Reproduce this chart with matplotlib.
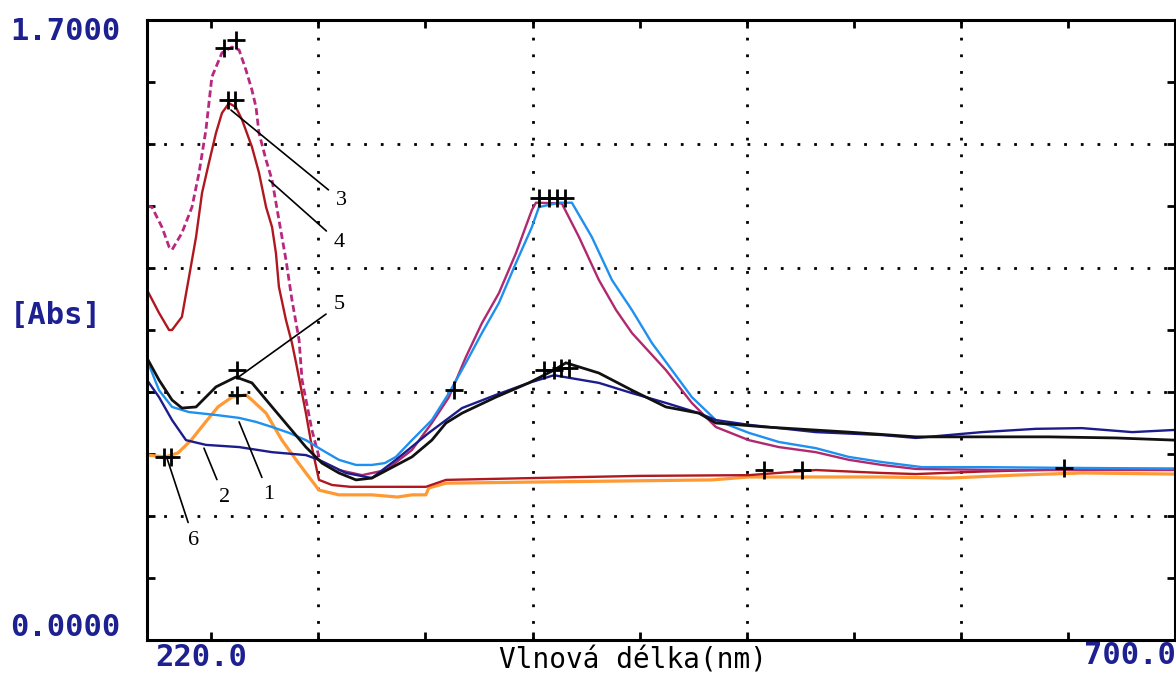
import numpy as np
import matplotlib
matplotlib.use('Agg')
import matplotlib.pyplot as plt

# --- spectra (wavelength nm, absorbance) ---
wl_1 = [220.0, 225.6, 231.7, 239.6, 252.2, 263.0, 270.9, 278.4, 286.3, 294.2, 301.7, 309.6,
        317.6, 325.0, 331.0, 336.2, 343.7, 353.0, 361.0, 368.9, 376.4, 384.3, 392.3, 399.7,
        403.0, 412.3, 418.4, 427.7, 437.1, 446.4, 455.8, 465.1, 474.4, 485.6, 501.0, 515.0,
        532.3, 547.7, 563.1, 581.8, 610.0, 650.0, 700.0]
abs_1 = [0.768, 0.685, 0.639, 0.625, 0.617, 0.609, 0.598, 0.584, 0.568, 0.548, 0.521, 0.494,
         0.480, 0.480, 0.485, 0.502, 0.548, 0.603, 0.677, 0.760, 0.842, 0.924, 1.034, 1.132,
         1.187, 1.199, 1.199, 1.105, 0.987, 0.905, 0.814, 0.740, 0.666, 0.603, 0.568, 0.543,
         0.526, 0.502, 0.488, 0.474, 0.474, 0.472, 0.470]

wl_2 = [220.0, 225.6, 231.7, 238.2, 247.5, 263.0, 278.4, 294.2, 300.3, 312.9, 325.0, 336.2,
        351.6, 359.6, 367.1, 382.9, 398.3, 410.0, 431.0, 446.4, 462.3, 477.7, 485.6, 501.0,
        532.3, 563.1, 579.0, 594.4, 609.8, 635.0, 656.5, 680.0, 700.0]
abs_2 = [0.713, 0.666, 0.603, 0.548, 0.535, 0.529, 0.515, 0.507, 0.494, 0.458, 0.444, 0.494,
         0.568, 0.603, 0.636, 0.672, 0.705, 0.726, 0.705, 0.677, 0.650, 0.622, 0.603, 0.590,
         0.570, 0.562, 0.554, 0.562, 0.570, 0.579, 0.581, 0.570, 0.576]

wl_3 = [220.0, 225.6, 230.3, 231.7, 236.3, 239.6, 242.9, 245.7, 248.9, 252.2, 255.0, 258.3,
        261.5, 264.4, 269.0, 272.3, 275.6, 278.4, 280.2, 281.6, 284.9, 287.7, 289.6, 294.2,
        297.0, 300.3, 306.4, 315.0, 350.2, 359.6, 399.7, 450.0, 501.0, 532.3, 563.1, 579.0,
        610.0, 656.5, 700.0]
abs_3 = [0.960, 0.897, 0.850, 0.850, 0.886, 0.995, 1.105, 1.226, 1.308, 1.390, 1.445, 1.472,
         1.461, 1.426, 1.352, 1.281, 1.187, 1.132, 1.061, 0.968, 0.877, 0.814, 0.760, 0.622,
         0.529, 0.439, 0.425, 0.420, 0.420, 0.439, 0.444, 0.450, 0.452, 0.466, 0.458, 0.455,
         0.462, 0.469, 0.469]

wl_4 = [220.0, 222.3, 227.0, 230.3, 231.7, 236.3, 241.0, 244.3, 247.5, 250.3, 255.0, 259.7,
        263.0, 266.2, 269.0, 270.9, 272.3, 275.6, 278.4, 281.6, 284.9, 287.7, 291.0, 292.4,
        297.0, 300.3, 309.6, 320.4, 331.6, 343.7, 353.0, 361.0, 368.9, 376.4, 384.3, 392.3,
        399.7, 401.6, 413.7, 421.7, 431.0, 439.0, 446.4, 462.3, 474.4, 485.6, 501.0, 515.0,
        532.3, 547.7, 563.1, 579.0, 620.0, 700.0]
abs_4 = [1.190, 1.187, 1.132, 1.078, 1.070, 1.116, 1.187, 1.281, 1.398, 1.544, 1.610, 1.626,
         1.618, 1.563, 1.508, 1.461, 1.390, 1.316, 1.261, 1.152, 1.042, 0.932, 0.823, 0.713,
         0.576, 0.502, 0.466, 0.452, 0.466, 0.521, 0.595, 0.666, 0.776, 0.869, 0.951, 1.061,
         1.179, 1.199, 1.197, 1.105, 0.987, 0.905, 0.842, 0.740, 0.650, 0.584, 0.548, 0.529,
         0.515, 0.494, 0.480, 0.469, 0.466, 0.466]

wl_5 = [220.0, 225.6, 231.7, 236.3, 242.9, 252.2, 261.5, 269.0, 278.4, 286.3, 294.2, 301.7,
        309.6, 317.6, 325.0, 343.7, 353.0, 359.6, 367.1, 382.9, 398.3, 410.0, 415.6, 431.0,
        446.4, 462.3, 477.7, 485.6, 509.0, 547.7, 579.0, 609.8, 641.1, 672.4, 700.0]
abs_5 = [0.773, 0.713, 0.658, 0.636, 0.639, 0.694, 0.721, 0.705, 0.639, 0.584, 0.529, 0.485,
         0.458, 0.439, 0.444, 0.502, 0.548, 0.595, 0.622, 0.666, 0.705, 0.740, 0.760, 0.732,
         0.685, 0.639, 0.622, 0.595, 0.584, 0.570, 0.557, 0.557, 0.557, 0.554, 0.548]

wl_6 = [220.0, 228.5, 234.5, 240.6, 247.0, 253.1, 259.7, 266.2, 269.0, 275.6, 283.0, 289.6,
        294.2, 300.3, 309.6, 325.0, 337.0, 343.7, 350.2, 351.6, 359.6, 399.7, 483.8, 501.0,
        563.1, 594.4, 625.0, 656.5, 700.0]
abs_6 = [0.507, 0.502, 0.513, 0.548, 0.595, 0.639, 0.666, 0.672, 0.658, 0.622, 0.548, 0.494,
         0.458, 0.411, 0.398, 0.398, 0.392, 0.398, 0.398, 0.417, 0.430, 0.433, 0.439, 0.447,
         0.447, 0.444, 0.452, 0.458, 0.455]

# peak-pick crosses left by the instrument
peak_wl = [256.0, 261.5, 257.8, 261.1, 403.0, 407.7, 411.4, 415.1, 405.3, 410.0, 413.3,
           417.0, 363.3, 262.0, 262.0, 227.9, 231.2, 508.0, 525.8, 648.0]
peak_abs = [1.623, 1.645, 1.481, 1.481, 1.212, 1.212, 1.212, 1.212, 0.740, 0.740, 0.745,
            0.745, 0.685, 0.740, 0.672, 0.502, 0.502, 0.466, 0.466, 0.472]

# curve numbers: label, point on curve, label position
labels = ['3', '4', '5', '1', '2', '6']
label_xy = [(259.2, 1.453), (277.0, 1.261), (262.0, 0.718), (263.0, 0.598), (246.6, 0.526), (229.3, 0.499)]
label_text_xy = [(310.6, 1.206), (309.6, 1.091), (309.6, 0.919), (277.0, 0.398), (256.0, 0.392), (241.9, 0.274)]

W, H = 1176, 673
fig = plt.figure(figsize=(W / 100, H / 100), dpi=100)
ax = fig.add_axes([147 / W, 1 - 640 / H, (W - 148) / W, 620 / H])
ax.set_xlim(220, 700)
ax.set_ylim(0, 1.7)

# grid: dotted lines at major positions, ticks at every half step
ax.set_xticks([300, 400, 500, 600])
ax.set_xticks([250, 350, 450, 550, 650], minor=True)
ax.set_yticks([0.34, 0.68, 1.02, 1.36])
ax.set_yticks([0.17, 0.51, 0.85, 1.19, 1.53], minor=True)
ax.tick_params(which='both', direction='in', length=6, width=2, labelbottom=False, labelleft=False,
               top=True, right=True)
ax.grid(which='major', color='black', linestyle=(0, (1, 5)), linewidth=2)
for s in ax.spines.values():
    s.set_linewidth(2.2)

lw = 1.7
ax.plot(wl_6, abs_6, color='#ff9933', lw=lw + 0.6)
ax.plot(wl_3, abs_3, color='#b01820', lw=lw)
wl4 = np.array(wl_4)
ab4 = np.array(abs_4)
left = wl4 <= 300.3
ax.plot(wl4[left], ab4[left], color='#b8287e', lw=2, linestyle=(0, (2.5, 1.3)))
ax.plot(wl4[~left], ab4[~left], color='#b0286e', lw=lw)
ax.plot(wl_1, abs_1, color='#1e90f0', lw=lw)
ax.plot(wl_2, abs_2, color='#1c1c8c', lw=lw)
ax.plot(wl_5, abs_5, color='#111111', lw=lw + 0.3)

ax.plot(peak_wl, peak_abs, linestyle='none', marker='+', markersize=13, mew=2, color='black')

for lab, xy, txy in zip(labels, label_xy, label_text_xy):
    ax.annotate(lab, xy=xy, xytext=txy, ha='center', va='center', fontsize=16,
                family='Liberation Serif',
                arrowprops=dict(arrowstyle='-', color='black', lw=1.2, shrinkA=4, shrinkB=0))

# instrument style axis texts
tick_col = '#1c2090'
mono = 'DejaVu Sans Mono'
fig.text(10 / W, 1 - 32 / H, '1.7000', color=tick_col, family=mono, fontsize=22, weight='bold',
         ha='left', va='center')
fig.text(10 / W, 1 - 628 / H, '0.0000', color=tick_col, family=mono, fontsize=22, weight='bold',
         ha='left', va='center')
fig.text(10 / W, 1 - 315 / H, '[Abs]', color=tick_col, family=mono, fontsize=22, weight='bold',
         ha='left', va='center')
fig.text(155 / W, 1 - 658 / H, '220.0', color=tick_col, family=mono, fontsize=22, weight='bold',
         ha='left', va='center')
fig.text(1176 / W, 1 - 655 / H, '700.0', color=tick_col, family=mono, fontsize=22, weight='bold',
         ha='right', va='center')
fig.text(633 / W, 1 - 660 / H, 'Vlnová délka(nm)', color='black', family=mono, fontsize=20,
         ha='center', va='center')

fig.savefig('out.png', dpi=100)
